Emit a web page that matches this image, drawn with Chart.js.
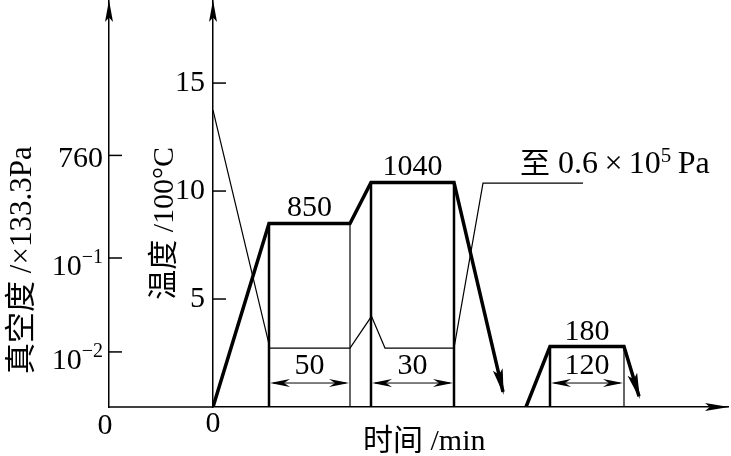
<!DOCTYPE html>
<html lang="zh">
<head>
<meta charset="utf-8">
<title>真空热处理工艺曲线</title>
<script src="https://cdn.jsdelivr.net/npm/chart.js@4.4.1/dist/chart.umd.min.js"></script>
<style>
html,body{margin:0;padding:0;background:#fff;overflow:hidden;}
#wrap{position:relative;width:731px;height:456px;}
canvas{display:block;}
</style>
</head>
<body>
<div id="wrap"><canvas id="chart" width="731" height="456"></canvas></div>
<script>
// ---- data (time axis is schematic, arbitrary units) ----
const heatTime   = [0, 56, 137, 158, 241, 290];
const heatTemp   = [0, 8.5, 8.5, 10.4, 10.4, 0.7];      // ×100 °C
const temperTime = [313, 337, 411, 426];
const temperTemp = [0, 2.8, 2.8, 0.5];
const vacTime    = [0, 55.5, 56, 137, 158.5, 172, 241, 270, 370];
const vacLevel   = [13.75, 3.0, 2.73, 2.73, 4.2, 2.73, 2.73, 10.37, 10.37];
const stepTime   = [56, 137, 158, 241, 337, 411];
const stepTemp   = [8.5, 8.5, 10.4, 10.4, 2.8, 2.8];
const holdStart  = [56, 158, 337];
const holdEnd    = [137, 241, 411];
const holdTemp   = [8.5, 10.4, 2.8];
const holdLabels = ['850', '1040', '180'];
const durLabels  = ['50', '30', '120'];
const durLevel   = 1.11;
const tempTicks  = [5, 10, 15];
const timeTicks  = [0];
const vacTickLevels = [2.55, 6.9, 11.65];
const vacTickBase   = ['10', '10', '760'];
const vacTickExp    = ['−2', '−1', ''];
const noteTime = 307, noteLevel = 10.37;

const SERIF = '"Liberation Serif", "Times New Roman", serif';
const CJK = '"Noto Sans CJK SC", sans-serif';

function pts(xs, ys) { return xs.map((x, i) => ({x: x, y: ys[i]})); }

const thinSteps = [1, 5];
const datasets = [
  {label: '温度', data: pts(heatTime, heatTemp), borderWidth: 3.5, yAxisID: 'y'},
  {label: '回火', data: pts(temperTime, temperTemp), borderWidth: 3.5, yAxisID: 'y'},
  {label: '真空度', data: pts(vacTime, vacLevel), borderWidth: 1.2, yAxisID: 'y2'}
];
stepTime.forEach((t, i) => {
  datasets.push({label: 'step' + i, data: pts([t, t], [0, stepTemp[i]]),
    borderWidth: thinSteps.includes(i) ? 1.2 : 2.5, yAxisID: 'y'});
});

function arrowHead(ctx, fx, fy, tx, ty, len, hw, notch) {
  const dx = tx - fx, dy = ty - fy, L = Math.hypot(dx, dy);
  const ux = dx / L, uy = dy / L, nx = -uy, ny = ux;
  const bx = tx - ux * len, by = ty - uy * len;
  const mx = tx - ux * len * notch, my = ty - uy * len * notch;
  ctx.beginPath();
  ctx.moveTo(tx, ty);
  ctx.lineTo(bx + nx * hw, by + ny * hw);
  ctx.lineTo(mx, my);
  ctx.lineTo(bx - nx * hw, by - ny * hw);
  ctx.closePath();
  ctx.fill();
}
function partsWidth(ctx, parts) {
  let w = 0;
  for (const p of parts) { ctx.font = p.f; w += ctx.measureText(p.t).width; }
  return w;
}
function drawParts(ctx, parts, x, y) {
  for (const p of parts) {
    ctx.font = p.f;
    ctx.fillText(p.t, x, y + (p.dy || 0));
    x += ctx.measureText(p.t).width;
  }
}
function seg(ctx, x1, y1, x2, y2) { ctx.beginPath(); ctx.moveTo(x1, y1); ctx.lineTo(x2, y2); ctx.stroke(); }

const deco = {
  id: 'deco',
  afterDraw(chart) {
    const {ctx, chartArea: a, scales} = chart;
    const xs = scales.x, ys = scales.y, vs = scales.y2;
    const X0 = vs.right;
    ctx.save();
    ctx.strokeStyle = '#000'; ctx.fillStyle = '#000'; ctx.lineCap = 'butt';
    ctx.textAlign = 'left'; ctx.textBaseline = 'alphabetic';

    // time axis extension to the vacuum axis
    ctx.lineWidth = 1.5;
    seg(ctx, X0, a.bottom, a.left, a.bottom);
    // axis arrows
    arrowHead(ctx, X0, a.bottom, X0, a.top - 1, 22, 4, 0.8);
    arrowHead(ctx, a.left, a.bottom, a.left, a.top - 1, 22, 4, 0.8);
    arrowHead(ctx, a.left, a.bottom, a.right + 1, a.bottom, 24, 4, 0.8);

    // inward tick marks
    tempTicks.forEach(v => { const py = ys.getPixelForValue(v); seg(ctx, a.left, py, a.left + 13, py); });
    vacTickLevels.forEach(v => { const py = vs.getPixelForValue(v); seg(ctx, X0, py, X0 + 13, py); });

    // vacuum tick labels with superscripts
    vacTickLevels.forEach((lv, i) => {
      const py = vs.getPixelForValue(lv);
      const parts = [{t: vacTickBase[i], f: '30px ' + SERIF}];
      if (vacTickExp[i]) parts.push({t: vacTickExp[i], f: '20px ' + SERIF, dy: -12});
      const w = partsWidth(ctx, parts);
      drawParts(ctx, parts, X0 - 6 - w, py + (vacTickExp[i] ? 17 : 12));
    });

    // origin of the vacuum axis
    ctx.textAlign = 'center';
    ctx.font = '30px ' + SERIF;
    ctx.fillText('0', X0 - 4, a.bottom + 27);

    // cooling arrows
    [0, 1].forEach(di => {
      const els = chart.getDatasetMeta(di).data;
      const p = els[els.length - 2], q = els[els.length - 1];
      const L = Math.hypot(q.x - p.x, q.y - p.y);
      const tx = q.x + (q.x - p.x) / L * 3, ty = q.y + (q.y - p.y) / L * 3;
      arrowHead(ctx, p.x, p.y, tx, ty, 26, 5, 0.8);
    });

    // hold labels
    ctx.font = '30px ' + SERIF;
    holdLabels.forEach((s, i) => {
      const cx = (xs.getPixelForValue(holdStart[i]) + xs.getPixelForValue(holdEnd[i])) / 2;
      ctx.fillText(s, cx, ys.getPixelForValue(holdTemp[i]) - 7);
    });

    // duration dimension arrows
    ctx.lineWidth = 1;
    const dy = ys.getPixelForValue(durLevel);
    durLabels.forEach((s, i) => {
      const x1 = xs.getPixelForValue(holdStart[i]), x2 = xs.getPixelForValue(holdEnd[i]);
      seg(ctx, x1 + 4, dy, x2 - 4, dy);
      arrowHead(ctx, x2, dy, x1 + 1, dy, 20, 4, 0.7);
      arrowHead(ctx, x1, dy, x2 - 1, dy, 20, 4, 0.7);
      ctx.font = '30px ' + SERIF;
      ctx.fillText(s, (x1 + x2) / 2, dy - 9);
    });

    // note on the vacuum line
    ctx.textAlign = 'left';
    drawParts(ctx, [
      {t: '至', f: '30px ' + CJK},
      {t: ' 0.6', f: '32px ' + SERIF},
      {t: '\u2009×\u2009', f: '32px ' + SERIF},
      {t: '10', f: '32px ' + SERIF},
      {t: '5', f: '21px ' + SERIF, dy: -11},
      {t: '\u2009Pa', f: '32px ' + SERIF}
    ], xs.getPixelForValue(noteTime), vs.getPixelForValue(noteLevel) - 10);

    // time axis title
    drawParts(ctx, [{t: '时间', f: '30px ' + CJK}, {t: ' /min', f: '30px ' + SERIF}],
      xs.getPixelForValue(150), a.bottom + 43);

    // vacuum axis title
    ctx.save();
    ctx.translate(vs.left + 31, vs.getPixelForValue(6.8));
    ctx.rotate(-Math.PI / 2);
    let parts = [{t: '真空度', f: '31px ' + CJK}, {t: ' /×133.3Pa', f: '31px ' + SERIF}];
    drawParts(ctx, parts, -partsWidth(ctx, parts) / 2, 0);
    ctx.restore();

    // temperature axis title
    ctx.save();
    ctx.translate(ys.left + 64, ys.getPixelForValue(8.5));
    ctx.rotate(-Math.PI / 2);
    parts = [{t: '温度', f: '30px ' + CJK}, {t: ' /100°C', f: '30px ' + SERIF}];
    drawParts(ctx, parts, -partsWidth(ctx, parts) / 2, 0);
    ctx.restore();

    ctx.restore();
  }
};

function noPadV(s, w) { s.width = w; s.paddingTop = 0; s.paddingBottom = 0; }

function build() {
  new Chart(document.getElementById('chart'), {
    type: 'line',
    data: {datasets: datasets},
    options: {
      responsive: false, animation: false, devicePixelRatio: 1,
      layout: {padding: {left: 0, top: 1, right: 3, bottom: 0}},
      plugins: {legend: {display: false}, tooltip: {enabled: false}, title: {display: false}},
      elements: {
        point: {radius: 0, hoverRadius: 0},
        line: {tension: 0, borderColor: '#000', fill: false, borderJoinStyle: 'miter', borderCapStyle: 'butt'}
      },
      scales: {
        x: {
          type: 'linear', min: 0, max: 515, position: 'bottom',
          grid: {display: false, drawTicks: false},
          border: {display: true, color: '#000', width: 1.5},
          afterBuildTicks: s => { s.ticks = timeTicks.map(v => ({value: v})); },
          afterFit: s => { s.height = 49; s.paddingLeft = 0; s.paddingRight = 0; },
          ticks: {color: '#000', font: {family: SERIF, size: 30, lineHeight: 1}, padding: 2,
                  maxRotation: 0, autoSkip: false}
        },
        y: {
          type: 'linear', position: 'left', weight: 0, min: 0, max: 18.8,
          grid: {display: false, drawTicks: false},
          border: {display: true, color: '#000', width: 1.5},
          afterBuildTicks: s => { s.ticks = tempTicks.map(v => ({value: v})); },
          afterFit: s => noPadV(s, 104),
          ticks: {color: '#000', font: {family: SERIF, size: 30}, padding: 8, autoSkip: false}
        },
        y2: {
          type: 'linear', position: 'left', weight: 1, min: 0, max: 18.8,
          grid: {display: false, drawTicks: false},
          border: {display: true, color: '#000', width: 1.5},
          afterBuildTicks: s => { s.ticks = vacTickLevels.map(v => ({value: v})); },
          afterFit: s => noPadV(s, 109),
          ticks: {display: false}
        }
      }
    },
    plugins: [deco]
  });
}

const fontJobs = ['30px "Liberation Serif"', '30px "Noto Sans CJK SC"'].map(f => document.fonts.load(f, '0至'));
Promise.race([Promise.all(fontJobs), new Promise(r => setTimeout(r, 800))]).then(build, build);
</script>
</body>
</html>
